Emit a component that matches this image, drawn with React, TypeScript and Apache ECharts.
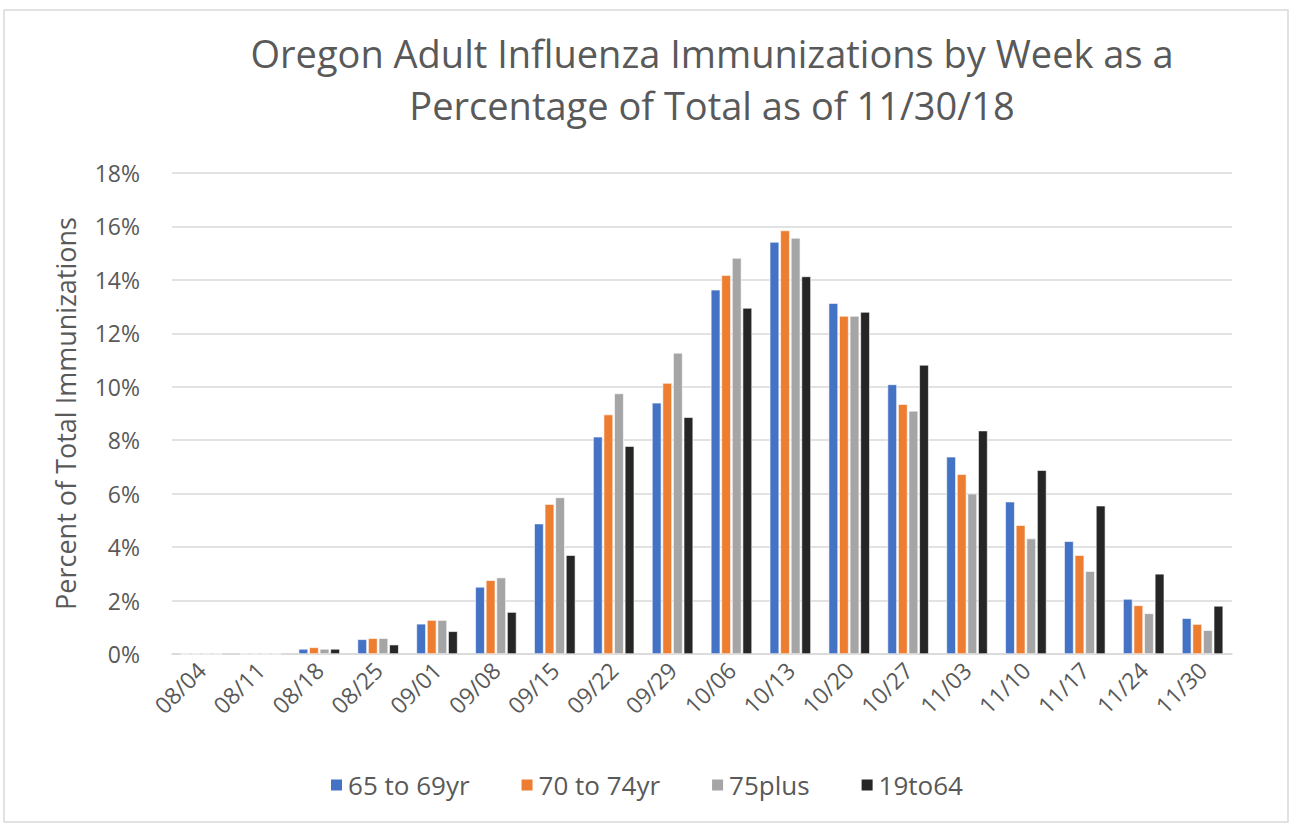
import React, { useEffect, useRef } from "react";
import * as echarts from "echarts";

const weeks = ["08/04", "08/11", "08/18", "08/25", "09/01", "09/08", "09/15", "09/22", "09/29", "10/06", "10/13", "10/20", "10/27", "11/03", "11/10", "11/17", "11/24", "11/30"];
const age65to69 = [0, 0, 0.19, 0.55, 1.13, 2.51, 4.88, 8.13, 9.40, 13.63, 15.42, 13.13, 10.09, 7.38, 5.70, 4.22, 2.06, 1.34];
const age70to74 = [0, 0, 0.25, 0.59, 1.27, 2.76, 5.61, 8.96, 10.14, 14.18, 15.85, 12.65, 9.35, 6.73, 4.82, 3.70, 1.82, 1.12];
const age75plus = [0, 0, 0.19, 0.59, 1.27, 2.86, 5.86, 9.75, 11.27, 14.82, 15.57, 12.65, 9.10, 6.00, 4.32, 3.10, 1.52, 0.89];
const age19to64 = [0, 0, 0.19, 0.35, 0.85, 1.57, 3.70, 7.78, 8.86, 12.95, 14.13, 12.80, 10.82, 8.36, 6.88, 5.55, 3.00, 1.80];

const seriesNames = ["65 to 69yr", "70 to 74yr", "75plus", "19to64"];
const seriesColors = ["#4472C4", "#ED7D31", "#A5A5A5", "#262626"];
const seriesData = [age65to69, age70to74, age75plus, age19to64];

const FONT = "'Open Sans', 'Liberation Sans', sans-serif";

export default function App() {
  const ref = useRef<HTMLDivElement>(null);
  useEffect(() => {
    if (!ref.current) return;
    const chart = echarts.init(ref.current, null, { renderer: "svg" });
    chart.setOption({
      animation: false,
      backgroundColor: "#ffffff",
      textStyle: { fontFamily: FONT },
      title: {
        text: "Oregon Adult Influenza Immunizations by Week as a\nPercentage of Total as of 11/30/18",
        left: 707,
        top: 22,
        textAlign: "center",
        textStyle: { fontFamily: FONT, fontSize: 38, fontWeight: "normal", color: "#595959", lineHeight: 52 },
      },
      graphic: [
        {
          type: "rect",
          shape: { x: 4, y: 10, width: 1284, height: 812 },
          style: { fill: "none", stroke: "#d9d9d9", lineWidth: 1.5 },
          silent: true,
        },
      ],
      legend: {
        data: seriesNames,
        bottom: 20,
        left: "center",
        itemWidth: 13,
        itemHeight: 13,
        itemGap: 50,
        icon: "rect",
        textStyle: { fontFamily: FONT, fontSize: 26, color: "#595959" },
      },
      grid: { left: 172, right: 60, top: 173, bottom: 169, containLabel: false },
      xAxis: {
        type: "category",
        data: weeks,
        axisLine: { lineStyle: { color: "#d9d9d9", width: 1.5 } },
        axisTick: { show: false },
        axisLabel: { rotate: 45, fontSize: 23, color: "#595959", margin: 12, fontFamily: FONT, interval: 0 },
      },
      yAxis: {
        type: "value",
        min: 0,
        max: 18,
        interval: 2,
        name: "Percent of Total Immunizations",
        nameLocation: "middle",
        nameGap: 93,
        nameTextStyle: { fontSize: 27, color: "#595959", fontFamily: FONT },
        axisLine: { show: false },
        axisTick: { show: false },
        axisLabel: { formatter: "{value}%", fontSize: 23, color: "#595959", margin: 32, fontFamily: FONT },
        splitLine: { lineStyle: { color: "#d9d9d9", width: 1.5 } },
      },
      series: seriesData.map((d, i) => ({
        name: seriesNames[i],
        type: "bar",
        data: d,
        barGap: "12%",
        barCategoryGap: "30%",
        itemStyle: { color: seriesColors[i], borderColor: "#ffffff", borderWidth: 0.6 },
      })),
    });
    return () => chart.dispose();
  }, []);
  return <div ref={ref} style={{ position: "fixed", left: 0, top: 0, width: 1292, height: 823 }} />;
}
